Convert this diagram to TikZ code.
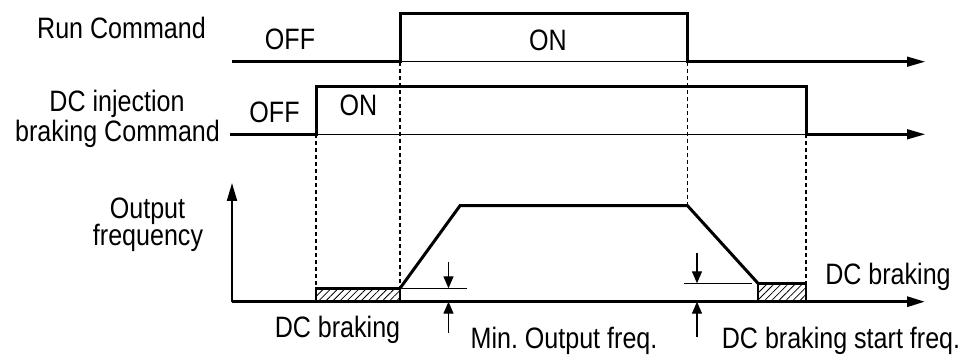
\documentclass[tikz,border=0pt]{standalone}
\usepackage{fontspec}
\setmainfont{Liberation Sans}[FakeStretch=0.85]
\usetikzlibrary{arrows.meta,patterns.meta}
\begin{document}
\frenchspacing
\begin{tikzpicture}[x=1pt,y=-1pt,
 sig/.style={line width=3pt, line join=miter},
 axisline/.style={line width=1.5pt,-{Triangle[length=18pt,width=10pt]}},
 guide/.style={line width=1.3pt,dash pattern=on 4pt off 3pt},
 thinline/.style={line width=1.3pt},
 dimarrow/.style={line width=1.3pt,-{Triangle[length=12pt,width=10pt]}},
 lbl/.style={font=\fontsize{29.5}{30}\selectfont, inner sep=0pt, anchor=base},
 brk/.style={line width=2.5pt, pattern={Lines[angle=45,distance=5pt,line width=0.8pt]}}
]
\useasboundingbox (0,0) rectangle (969,358);
% --- Run command row
\coordinate (rA) at (232,61.7);
\coordinate (rB) at (400,61.7);
\coordinate (rC) at (400,14);
\coordinate (rD) at (687.5,14);
\coordinate (rE) at (687.5,61.7);
\coordinate (rEnd) at (925,61.7);
\draw[axisline] (rA) -- (rEnd);
\draw[sig] (rA) -- (rB) -- (rC) -- (rD) -- (rE) -- ([xshift=-10pt]rEnd);
% --- DC injection row
\coordinate (dA) at (230,134.3);
\coordinate (dB) at (316,134.3);
\coordinate (dC) at (316,86.7);
\coordinate (dD) at (806,86.7);
\coordinate (dE) at (806,134.3);
\coordinate (dEnd) at (925,134.3);
\draw[axisline] (dA) -- (dEnd);
\draw[sig] (dA) -- (dB) -- (dC) -- (dD) -- (dE) -- ([xshift=-10pt]dEnd);
% --- Output frequency
\coordinate (fO) at (232,301.7);
\coordinate (fTop) at (232,183);
\coordinate (fEnd) at (925,301.7);
\draw[axisline,line width=2pt] (fO) -- (fTop);
\draw[axisline,line width=3pt] (fO) -- (fEnd);
\coordinate (b1a) at (316,288.3);
\coordinate (b1b) at (400,301.7);
\coordinate (p1) at (400,288.3);
\coordinate (p2) at (460,205.7);
\coordinate (p3) at (687.5,205.7);
\coordinate (p4) at (758,283.3);
\coordinate (b2b) at (806,301.7);
\draw[brk] (b1a) rectangle (b1b);
\draw[brk] (p4) rectangle (b2b);
\draw[sig] (p1) -- (p2) -- (p3) -- (p4);
% --- dashed guides
\draw[guide] (dB) -- (b1a);
\draw[guide] (rB) -- (p1);
\draw[guide] (rE) -- (p3);
\draw[guide] (dE) -- ([yshift=-1pt]b2b |- p4);
% --- dimension marks
\coordinate (m1) at (467,288.3);
\coordinate (m1t) at (448.5,262);
\coordinate (m1b) at (448.5,333);
\draw[thinline] (p1) -- (m1);
\draw[dimarrow] (m1t) -- (m1t |- p1);
\draw[dimarrow] (m1b) -- (m1b |- fO);
\coordinate (m2l) at (684,283.3);
\coordinate (m2r) at (752,283.3);
\coordinate (m2t) at (697,253);
\coordinate (m2b) at (697,337);
\draw[thinline] (m2l) -- (m2r);
\draw[dimarrow] (m2t) -- (m2t |- m2l);
\draw[dimarrow] (m2b) -- (m2b |- fO);
% --- labels
\node[lbl] (runlbl) at (121.5,38.3) {Run Command};
\node[lbl] (off1) at (290,50) {OFF};
\node[lbl] (on1) at (548,51) {ON};
\node[lbl] (dclbl1) at (117,111.7) {DC injection};
\node[lbl] (dclbl2) at (117.5,141.5) {braking Command};
\node[lbl] (off2) at (274.5,122.3) {OFF};
\node[lbl] (on2) at (358.5,115.7) {ON};
\node[lbl] (outlbl1) at (147.5,218.3) {Output};
\node[lbl] (outlbl2) at (148,245) {frequency};
\node[lbl] (br1) at (337.5,337) {DC braking};
\node[lbl] (minf) at (564,348) {Min. Output freq.};
\node[lbl] (dcst) at (841,348) {DC braking start freq.};
\node[lbl] (br2) at (888,284) {DC braking};
\end{tikzpicture}
\end{document}
